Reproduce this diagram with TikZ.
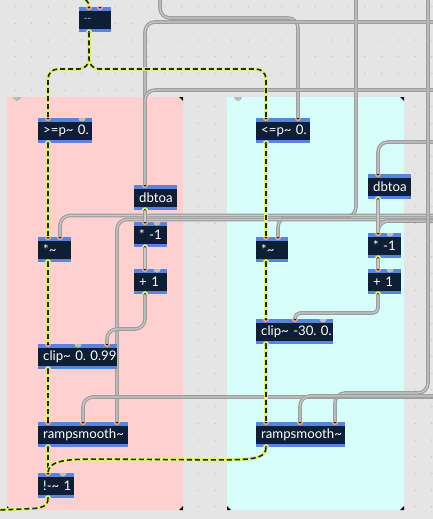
\documentclass[tikz,border=0pt]{standalone}
\usepackage{fontspec}
\setmainfont{Lato}
\usetikzlibrary{positioning}
\usepackage{xcolor}
\definecolor{canvasgrey}{RGB}{229,229,229}
\definecolor{dotgrey}{RGB}{196,196,196}
\definecolor{panelpink}{RGB}{255,208,208}
\definecolor{panelcyan}{RGB}{214,255,252}
\definecolor{handlegrey}{RGB}{186,186,186}
\definecolor{boxnavy}{RGB}{14,30,52}
\definecolor{bandblue}{RGB}{88,132,222}
\definecolor{inletpink}{RGB}{240,160,140}
\definecolor{outletyellow}{RGB}{222,240,120}
\definecolor{unusedgrey}{RGB}{190,190,190}
\definecolor{sigyellow}{RGB}{220,242,120}
\definecolor{cordgrey}{RGB}{158,158,158}
\definecolor{cordlight}{RGB}{200,200,200}

\pgfdeclarelayer{bg}
\pgfdeclarelayer{cords}
\pgfsetlayers{bg,cords,main}

% pins: box, pin name, offset from the left edge
\newcommand{\inlet}[3]{%
  \coordinate (#1-#2) at ([xshift=#3pt]#1.north west);
  \fill[inletpink] (#1-#2) ++(-3.2pt,0) arc[start angle=180,end angle=360,radius=3.2pt] -- cycle;
  \fill[boxnavy] (#1-#2) ++(-1.6pt,0) arc[start angle=180,end angle=360,radius=1.6pt] -- cycle;}
\newcommand{\greyin}[2]{%
  \fill[unusedgrey] ([xshift=#2pt]#1.north west) ++(-3.6pt,0) arc[start angle=180,end angle=360,radius=3.6pt] -- cycle;}
\newcommand{\outlet}[3]{%
  \coordinate (#1-#2) at ([xshift=#3pt]#1.south west);
  \fill[outletyellow] (#1-#2) ++(-3.2pt,0) arc[start angle=180,end angle=0,radius=3.2pt] -- cycle;
  \fill[boxnavy] (#1-#2) ++(-1.6pt,0) arc[start angle=180,end angle=0,radius=1.6pt] -- cycle;}

\begin{document}
\frenchspacing
\begin{tikzpicture}[
  x=1pt, y=-1pt,
  obj/.style={rectangle, fill=boxnavy, text=white, anchor=north west,
              minimum height=25pt, inner xsep=5pt, inner ysep=0pt,
              text width=#1, align=left, font=\fontsize{13.2}{15}\selectfont,
              path picture={
                \fill[bandblue] (path picture bounding box.north west) rectangle ([yshift=-3.5pt]path picture bounding box.north east);
                \fill[bandblue] (path picture bounding box.south west) rectangle ([yshift=3.5pt]path picture bounding box.south east);}},
  cord/.style={draw=cordgrey, line width=3.6pt, rounded corners=10pt,
               postaction={draw=cordlight, line width=1.2pt}},
  sig/.style={draw=black!85, line width=1.6pt, dash pattern=on 5pt off 3pt,
              rounded corners=10pt,
              preaction={draw=sigyellow, line width=3.4pt, solid}}
]
\useasboundingbox (0,0) rectangle (433,519);

% Canvas, grid and the two panels
\begin{pgfonlayer}{bg}
  \fill[canvasgrey] (0,0) rectangle (433,519);
  \foreach \gx in {0,...,25}{
    \foreach \gy in {0,...,30}{
      \fill[dotgrey] ({15+16.667*\gx},{6.667+16.667*\gy}) circle (0.75pt);
    }
  }
  \fill[panelpink] (7,97) rectangle (183,510);
  \fill[panelcyan] (227,97) rectangle (404,510);
  \foreach \hx in {17,238}{
    \fill[handlegrey] (\hx,97) ++(-4pt,0) arc[start angle=180,end angle=360,radius=4pt] -- cycle;
  }
  \foreach \px/\qx in {7/183,227/404}{
    \fill[black] (\qx,97) -- (\qx-4,97) -- (\qx,101) -- cycle;
    \fill[black] (\qx,510) -- (\qx-4,510) -- (\qx,506) -- cycle;
    \fill[black] (\px,510) -- (\px+4,510) -- (\px,506) -- cycle;
  }
\end{pgfonlayer}

% Objects
\node[obj=22pt, font=\fontsize{6}{7}\selectfont] (src) at (79,7) {\textasciitilde\textasciitilde};
\node[obj=44pt] (gte) at (38,118) {\mbox{>=p\textasciitilde\ 0.}};
\node[obj=44pt] (lte) at (256,118) {\mbox{<=p\textasciitilde\ 0.}};
\node[obj=33pt] (dbL) at (134,185) {dbtoa};
\node[obj=23pt] (negL) at (134,222) {\mbox{* -1}};
\node[obj=23pt] (mulL) at (38,237) {*\textasciitilde};
\node[obj=23pt] (addL) at (134,269) {\mbox{+ 1}};
\node[obj=69pt] (clipL) at (38,344) {\mbox{clip\textasciitilde\ 0. 0.99}};
\node[obj=80pt] (rampL) at (38,422) {rampsmooth\textasciitilde};
\node[obj=26pt] (notL) at (38,473) {\mbox{!-\textasciitilde\ 1}};
\node[obj=33pt] (dbR) at (368,174) {dbtoa};
\node[obj=22pt] (mulR) at (256,237) {*\textasciitilde};
\node[obj=23pt] (negR) at (368,233) {\mbox{* -1}};
\node[obj=23pt] (addR) at (368,269) {\mbox{+ 1}};
\node[obj=67pt] (clipR) at (256,319) {\mbox{clip\textasciitilde\ -30. 0.}};
\node[obj=79pt] (rampR) at (256,422) {rampsmooth\textasciitilde};

% Inlets and outlets
\inlet{src}{i1}{10} \inlet{src}{i2}{21} \outlet{src}{o}{10}
\inlet{gte}{i1}{10} \greyin{gte}{44} \outlet{gte}{o}{10}
\inlet{lte}{i1}{10} \inlet{lte}{i2}{42} \outlet{lte}{o}{10}
\inlet{dbL}{i1}{11} \outlet{dbL}{o}{11}
\inlet{negL}{i1}{11} \greyin{negL}{23} \outlet{negL}{o}{11}
\inlet{mulL}{i1}{10} \inlet{mulL}{i2}{22} \outlet{mulL}{o}{10}
\inlet{addL}{i1}{11} \greyin{addL}{23} \outlet{addL}{o}{11}
\inlet{clipL}{i1}{10} \greyin{clipL}{40} \inlet{clipL}{i3}{69} \outlet{clipL}{o}{10}
\inlet{rampL}{i1}{10} \inlet{rampL}{i2}{45} \inlet{rampL}{i3}{79} \outlet{rampL}{o}{10}
\inlet{notL}{i1}{10} \greyin{notL}{25} \outlet{notL}{o}{10}
\inlet{dbR}{i1}{10} \outlet{dbR}{o}{10}
\inlet{mulR}{i1}{10} \inlet{mulR}{i2}{22} \outlet{mulR}{o}{10}
\inlet{negR}{i1}{10} \greyin{negR}{22} \outlet{negR}{o}{10}
\inlet{addR}{i1}{10} \greyin{addR}{22} \outlet{addR}{o}{10}
\inlet{clipR}{i1}{10} \inlet{clipR}{i2}{39} \greyin{clipR}{67} \outlet{clipR}{o}{10}
\inlet{rampR}{i1}{10} \inlet{rampR}{i2}{44} \inlet{rampR}{i3}{79} \outlet{rampR}{o}{10}

% Cords coming in from off the canvas
\coordinate (sigIn) at (78,-3);
\coordinate (sigOut) at (-3,510);
\coordinate (srcA) at (160,-3);
\coordinate (srcB) at (436,22);
\coordinate (srcC) at (436,90);
\coordinate (srcD) at (356,-3);
\coordinate (srcE) at (436,219.5);
\coordinate (srcF) at (436,215.5);
\coordinate (srcG) at (436,142);
\coordinate (srcH) at (428,-3);
\coordinate (srcI) at (436,397);
\coordinate (srcJ) at (436,396);
\coordinate (srcK) at (436,221);

\begin{pgfonlayer}{cords}
  % control cords
  \draw[cord] (srcA) -- (160,18) -- (298,18) -- (lte-i2);
  \draw[cord] (srcB) -- (145,22) -- (dbL-i1);
  \draw[cord] (srcC) -- (145,90) -- (dbL-i1);
  \draw[cord] (srcD) -- (356,217) -- (278,217) -- (mulR-i2);
  \draw[cord] (srcF) -- (60,215.5) -- (mulL-i2);
  \draw[cord] (srcE) -- (117,219.5) -- (rampL-i3);
  \draw[cord] (srcK) -- (378,221) -- (negR-i1);
  \draw[cord] (srcG) -- (378,142) -- (dbR-i1);
  \draw[cord] (srcH) -- (428,393) -- (335,393) -- (rampR-i3);
  \draw[cord] (srcI) -- (83,397) -- (rampL-i2);
  \draw[cord] (srcJ) -- (300,396) -- (rampR-i2);
  \draw[cord] (dbL-o) -- (negL-i1);
  \draw[cord] (negL-o) -- (addL-i1);
  \draw[cord] (addL-o) -- (145,329) -- (107,329) -- (clipL-i3);
  \draw[cord] (dbR-o) -- (negR-i1);
  \draw[cord] (negR-o) -- (addR-i1);
  \draw[cord, rounded corners=5pt] (addR-o) -- (378,313) -- (295,313) -- (clipR-i2);

  % signal cords
  \draw[sig] (sigIn) .. controls (86,-1) and (89,1) .. (src-i1);
  \draw[sig] (src-o) -- (89,69) -- (48,69) -- (gte-i1);
  \draw[sig] (src-o) -- (89,69) -- (266,69) -- (lte-i1);
  \draw[sig] (gte-o) -- (mulL-i1);
  \draw[sig] (mulL-o) -- (clipL-i1);
  \draw[sig] (clipL-o) -- (rampL-i1);
  \draw[sig] (rampL-o) -- (notL-i1);
  \draw[sig] (notL-o) .. controls (48,506) and (42,508) .. (24,509) -- (sigOut);
  \draw[sig] (lte-o) -- (mulR-i1);
  \draw[sig] (mulR-o) -- (clipR-i1);
  \draw[sig] (clipR-o) -- (rampR-i1);
  \draw[sig] (rampR-o) .. controls (266,457) and (256,459) .. (226,460) -- (90,459)
    .. controls (58,460) and (48,464) .. (notL-i1);
\end{pgfonlayer}

\end{tikzpicture}
\end{document}
